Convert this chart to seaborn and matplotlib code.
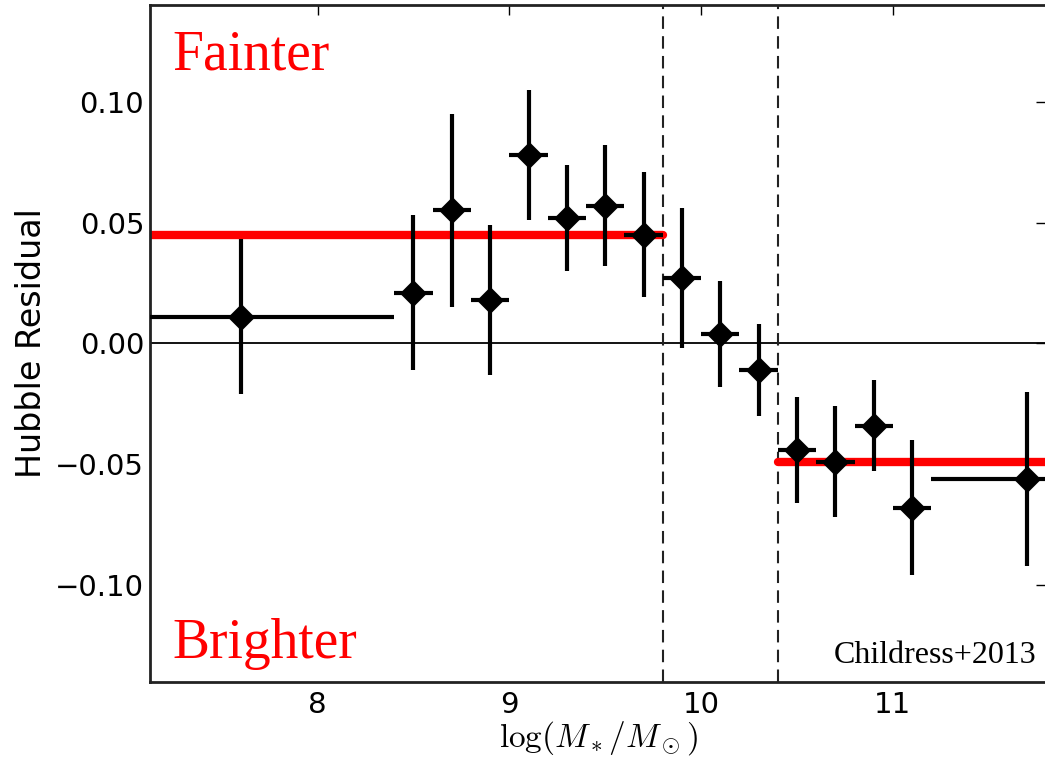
import numpy as np
import pandas as pd
import matplotlib
matplotlib.use("Agg")
import matplotlib.pyplot as plt
import seaborn as sns

# ---- data ----
mass = [7.6, 8.5, 8.7, 8.9, 9.1, 9.3, 9.5, 9.7, 9.9, 10.1, 10.3, 10.5, 10.7, 10.9, 11.1, 11.7]
resid = [0.011, 0.021, 0.055, 0.018, 0.078, 0.052, 0.057, 0.045, 0.027, 0.004, -0.011,
         -0.044, -0.049, -0.034, -0.068, -0.056]
mass_err = [0.8, 0.1, 0.1, 0.1, 0.1, 0.1, 0.1, 0.1, 0.1, 0.1, 0.1, 0.1, 0.1, 0.1, 0.1, 0.5]
resid_err = [0.032, 0.032, 0.040, 0.031, 0.027, 0.022, 0.025, 0.026, 0.029, 0.022, 0.019,
             0.022, 0.023, 0.019, 0.028, 0.036]

step_low_x = [7.0, 9.8]
step_low_y = [0.045, 0.045]
step_high_x = [10.4, 12.0]
step_high_y = [-0.049, -0.049]
split_lines = [9.8, 10.4]

xticks = [8, 9, 10, 11]
yticks = [-0.10, -0.05, 0.00, 0.05, 0.10]

df = pd.DataFrame({"mass": mass, "resid": resid})

sns.set_style("white")
plt.rcParams["mathtext.fontset"] = "cm"

fig = plt.figure(figsize=(10.45, 7.59), dpi=100)
ax = fig.add_axes([0.1433, 0.1018, 1.0013 - 0.1433, 0.9934 - 0.1018])

ax.axhline(0, color="black", lw=1.3, zorder=1)
for xv in split_lines:
    ax.axvline(xv, color="#222222", lw=1.5, ls=(0, (6, 3.5)), zorder=1)

sns.lineplot(x=step_low_x, y=step_low_y, color="red", lw=6, ax=ax, zorder=2)
sns.lineplot(x=step_high_x, y=step_high_y, color="red", lw=6, ax=ax, zorder=2)

ax.errorbar(mass, resid, xerr=mass_err, yerr=resid_err, fmt="none",
            ecolor="black", elinewidth=3, capsize=0, zorder=3)
sns.scatterplot(data=df, x="mass", y="resid", marker="D", s=190, color="black",
                edgecolor="black", linewidth=0, ax=ax, zorder=4)

ax.set_xlim(7.125, 11.8)
ax.set_ylim(-0.14, 0.14)
ax.set_xticks(xticks)
ax.set_yticks(yticks)
ax.set_xticklabels([str(t) for t in xticks])
ax.set_yticklabels(["\u22120.10", "\u22120.05", "0.00", "0.05", "0.10"])
ax.tick_params(direction="in", length=7, width=1, top=True, right=True,
               labelsize=21, colors="black", labelcolor="black")
ax.tick_params(axis="x", pad=7)
ax.tick_params(axis="y", pad=4)

for sp in ax.spines.values():
    sp.set_color("#222222")
    sp.set_linewidth(2)

ax.set_ylabel("Hubble Residual", fontsize=24, labelpad=5, color="black")
ax.set_xlabel(r"$\log(M_*/M_\odot)$", fontsize=24, labelpad=0, color="black")

ax.text(0.025, 0.905, "Fainter", transform=ax.transAxes, color="red",
        fontsize=40, family="Liberation Serif", ha="left", va="baseline")
ax.text(0.025, 0.035, "Brighter", transform=ax.transAxes, color="red",
        fontsize=40, family="Liberation Serif", ha="left", va="baseline")
ax.text(0.989, 0.028, "Childress+2013", transform=ax.transAxes, color="black",
        fontsize=23, family="Liberation Serif", ha="right", va="baseline")

fig.savefig("out.png", dpi=100)
